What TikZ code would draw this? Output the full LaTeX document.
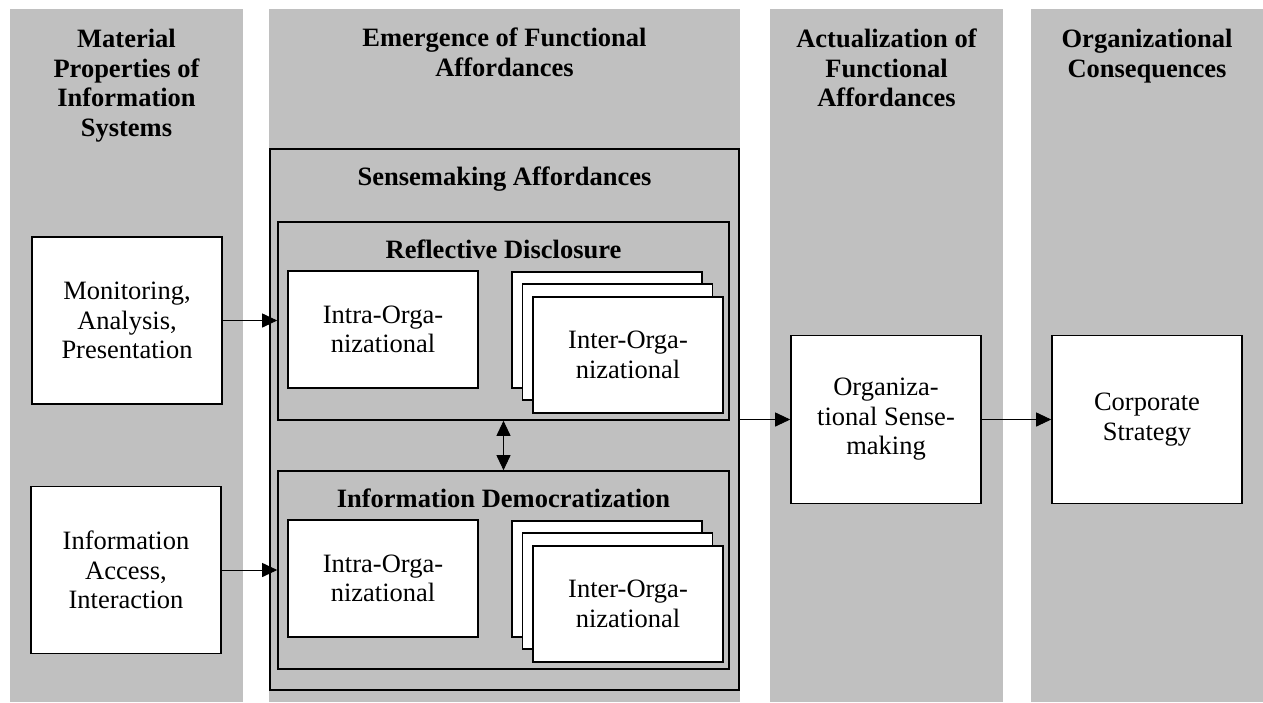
\documentclass[tikz,border=0pt]{standalone}
\usepackage{fontspec}
\setmainfont{Liberation Serif}
\usetikzlibrary{arrows.meta}
\definecolor{colgray}{RGB}{192,192,192}
\tikzset{
  txt/.style={font=\fontsize{26.5}{29.5}\selectfont},
  hdr/.style={txt, font=\fontsize{26.5}{29.5}\selectfont\bfseries, align=center, inner sep=0pt, anchor=north},
  ttl/.style={font=\fontsize{26.5}{29.5}\selectfont\bfseries, inner sep=0pt, anchor=base},
  wbox/.style={draw=black, fill=white, line width=1.6pt, align=center, inner sep=0pt, txt},
  gbox/.style={draw=black, fill=colgray, line width=1.6pt, inner sep=0pt},
  arr/.style={line width=0.9pt, -{Triangle[length=15pt,width=14pt]}},
  darr/.style={line width=0.9pt, {Triangle[length=15pt,width=14pt]}-{Triangle[length=15pt,width=14pt]}}
}
\begin{document}
\begin{tikzpicture}[x=1pt,y=-1pt]
\useasboundingbox (0,0) rectangle (1263,702);
\fill[white] (0,0) rectangle (1263,702);
% columns
\fill[colgray] (10,9) rectangle (243,702);
\fill[colgray] (269,9) rectangle (740,702);
\fill[colgray] (770,9) rectangle (1003,702);
\fill[colgray] (1031,9) rectangle (1263,702);
% headers
\node[hdr] (h1) at (126.5,29) {Material\\Properties of\\Information\\Systems};
\node[hdr] (h2) at (504.5,28) {Emergence of Functional\\Affordances};
\node[hdr] (h3) at (886.5,29) {Actualization of\\Functional\\Affordances};
\node[hdr] (h4) at (1147,29) {Organizational\\Consequences};
% sensemaking container
\node[gbox, minimum width=469pt, minimum height=541pt] (sense) at (504.5,419.5) {};
\node[ttl] (senset) at (504.5,185) {Sensemaking Affordances};
% reflective disclosure
\node[gbox, minimum width=451pt, minimum height=198pt] (rd) at (503.5,321) {};
\node[ttl] (rdt) at (503.5,258) {Reflective Disclosure};
\node[wbox, minimum width=190pt, minimum height=117pt] (rdintra) at (383,329.5) {Intra-Orga-\\nizational};
\node[wbox, minimum width=190pt, minimum height=116pt] (rdc1) at (607,330) {};
\node[wbox, minimum width=190pt, minimum height=116pt] (rdc2) at (617.5,342) {};
\node[wbox, minimum width=190pt, minimum height=116pt] (rdinter) at (628,355) {Inter-Orga-\\nizational};
% information democratization
\node[gbox, minimum width=451pt, minimum height=198pt] (id) at (503.5,570) {};
\node[ttl] (idt) at (503.5,507) {Information Democratization};
\node[wbox, minimum width=190pt, minimum height=117pt] (idintra) at (383,578.5) {Intra-Orga-\\nizational};
\node[wbox, minimum width=190pt, minimum height=116pt] (idc1) at (607,579) {};
\node[wbox, minimum width=190pt, minimum height=116pt] (idc2) at (617.5,591) {};
\node[wbox, minimum width=190pt, minimum height=116pt] (idinter) at (628,604) {Inter-Orga-\\nizational};
% left boxes
\node[wbox, minimum width=190pt, minimum height=167pt] (mon) at (127,320.5) {Monitoring,\\Analysis,\\Presentation};
\node[wbox, minimum width=190pt, minimum height=167pt] (acc) at (126,570) {Information\\Access,\\Interaction};
% right boxes
\node[wbox, minimum width=190pt, minimum height=168pt] (orgs) at (886,419.5) {Organiza-\\tional Sense-\\making};
\node[wbox, minimum width=190pt, minimum height=168pt] (corp) at (1147,419.5) {Corporate\\Strategy};
% connectors
\draw[arr] (mon.east) -- (mon.east -| rd.west);
\draw[arr] (acc.east) -- (acc.east -| id.west);
\draw[darr] (rd.south) -- (id.north);
\draw[arr] (sense.east |- orgs.west) -- (orgs.west);
\draw[arr] (orgs.east) -- (corp.west);
\end{tikzpicture}
\end{document}
